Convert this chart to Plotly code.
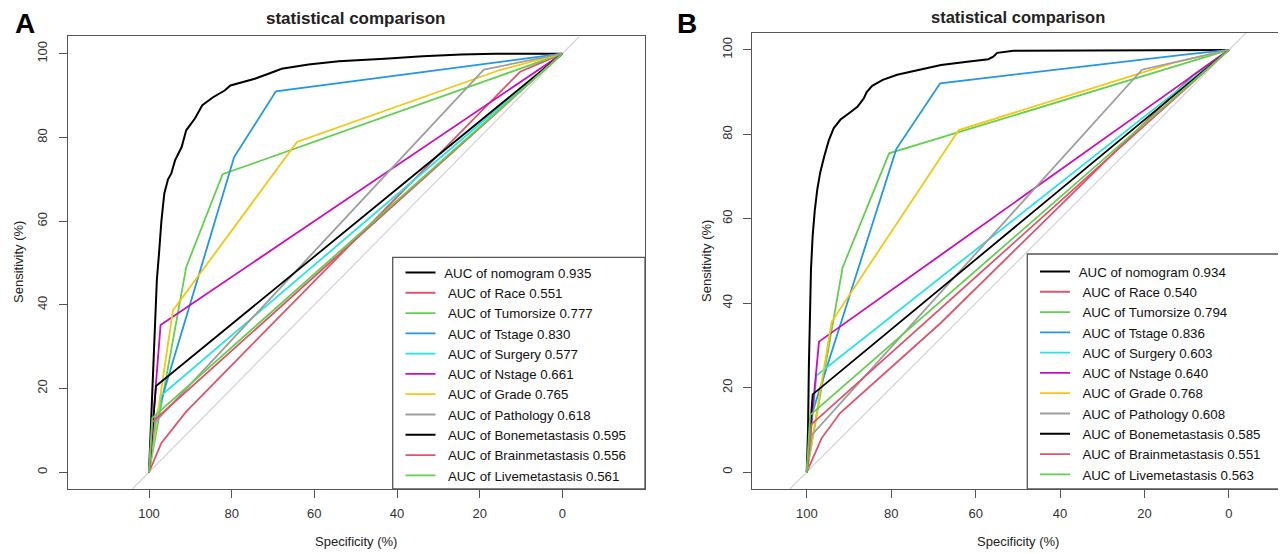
import plotly.graph_objects as go

W, H = 1286, 554
OFF = 8  # page body margin offset of the rendered figure
FONT = "Arial, Liberation Sans, sans-serif"

names = ["nomogram", "Race", "Tumorsize", "Tstage", "Surgery", "Nstage", "Grade",
         "Pathology", "Bonemetastasis", "Brainmetastasis", "Livemetastasis"]
colors = ["#000000", "#DF536B", "#61D04F", "#2297E6", "#28E2E5", "#CD0BBC", "#F5C710",
          "#9E9E9E", "#000000", "#DF536B", "#61D04F"]
auc_a = ["0.935", "0.551", "0.777", "0.830", "0.577", "0.661", "0.765", "0.618", "0.595", "0.556", "0.561"]
auc_b = ["0.934", "0.540", "0.794", "0.836", "0.603", "0.640", "0.768", "0.608", "0.585", "0.551", "0.563"]

tick_vals = [0, 20, 40, 60, 80, 100]
diag_spec = [104, -4]
diag_sens = [-4, 104]

# ---------------- Panel A (specificity %, sensitivity %) ----------------
a_nomogram_spec = [100, 99.7, 99.4, 99.1, 98.8, 98.4, 98.1, 97.6, 97.0, 96.3, 95.4, 94.6, 93.7, 92.1, 91.0,
                   88.9, 87.1, 84.5, 81.7, 80.3, 77.1, 74.4, 71.1, 67.9, 61.4, 54.1, 43.0, 33.8, 24.5, 16.2, 0]
a_nomogram_sens = [0, 8, 14, 22, 30, 38, 46, 52, 60, 66.6, 70, 71.4, 74.5, 77.7, 81.7,
                   84.5, 87.7, 89.6, 91.2, 92.4, 93.2, 94.0, 95.2, 96.4, 97.4, 98.2, 98.8, 99.4, 99.8, 100, 100]
a_race_spec = [100, 97, 91.0, 10.2, 0]
a_race_sens = [0, 7, 14.5, 95.7, 100]
a_tumorsize_spec = [100, 95.3, 91.0, 82.2, 0]
a_tumorsize_sens = [0, 26, 49, 71.2, 100]
a_tstage_spec = [100, 98.6, 79.4, 69.3, 0]
a_tstage_sens = [0, 12, 75.3, 91.0, 100]
a_surgery_spec = [100, 97.0, 0]
a_surgery_sens = [0, 18.4, 100]
a_nstage_spec = [100, 97.2, 0]
a_nstage_sens = [0, 35.2, 100]
a_grade_spec = [100, 94.2, 64.2, 15.1, 0]
a_grade_sens = [0, 38.7, 78.9, 96.1, 100]
a_pathology_spec = [100, 98.5, 19.0, 0]
a_pathology_sens = [0, 12, 96.2, 100]
a_bone_spec = [100, 98.3, 0]
a_bone_sens = [0, 20.6, 100]
a_brain_spec = [100, 99.2, 0]
a_brain_sens = [0, 12.0, 100]
a_liver_spec = [100, 99.2, 0]
a_liver_sens = [0, 13.0, 100]

# ---------------- Panel B ----------------
b_nomogram_spec = [100, 99.7, 99.5, 99.3, 99.0, 98.6, 98.1, 97.5, 96.8, 95.8, 94.8, 93.6, 92.0, 90.0, 88.0,
                   86.5, 85.8, 84.5, 82.0, 78.6, 75.5, 72.0, 68.2, 62.0, 57.0, 55.8, 54.9, 51.0, 30.0, 0]
b_nomogram_sens = [0, 10, 25, 38, 48, 56, 62, 67, 71, 75, 78.5, 81.5, 83.5, 85, 86.5,
                   88.5, 90, 91.5, 92.9, 94.1, 94.8, 95.6, 96.4, 97.2, 97.8, 98.4, 99.3, 99.8, 99.9, 100]
b_race_spec = [100, 96.5, 92.1, 68.4, 8.5, 0]
b_race_sens = [0, 8, 14.0, 35.2, 94.0, 100]
b_tumorsize_spec = [100, 91.5, 80.5, 0]
b_tumorsize_sens = [0, 48.5, 75.5, 100]
b_tstage_spec = [100, 98.7, 78.8, 68.4, 11.0, 0]
b_tstage_sens = [0, 14, 76.5, 92.1, 98.8, 100]
b_surgery_spec = [100, 97.7, 0]
b_surgery_sens = [0, 22.9, 100]
b_nstage_spec = [100, 97.1, 0]
b_nstage_sens = [0, 30.9, 100]
b_grade_spec = [100, 94.1, 64.0, 13.0, 0]
b_grade_sens = [0, 35.6, 81.0, 97.0, 100]
b_pathology_spec = [100, 98.8, 20.6, 0]
b_pathology_sens = [0, 8.8, 95.3, 100]
b_bone_spec = [100, 98.6, 0]
b_bone_sens = [0, 18.4, 100]
b_brain_spec = [100, 98.9, 0]
b_brain_sens = [0, 11.3, 100]
b_liver_spec = [100, 99.2, 0]
b_liver_sens = [0, 13.5, 100]

curves_a = [(a_nomogram_spec, a_nomogram_sens), (a_race_spec, a_race_sens), (a_tumorsize_spec, a_tumorsize_sens),
            (a_tstage_spec, a_tstage_sens), (a_surgery_spec, a_surgery_sens), (a_nstage_spec, a_nstage_sens),
            (a_grade_spec, a_grade_sens), (a_pathology_spec, a_pathology_sens), (a_bone_spec, a_bone_sens),
            (a_brain_spec, a_brain_sens), (a_liver_spec, a_liver_sens)]
curves_b = [(b_nomogram_spec, b_nomogram_sens), (b_race_spec, b_race_sens), (b_tumorsize_spec, b_tumorsize_sens),
            (b_tstage_spec, b_tstage_sens), (b_surgery_spec, b_surgery_sens), (b_nstage_spec, b_nstage_sens),
            (b_grade_spec, b_grade_sens), (b_pathology_spec, b_pathology_sens), (b_bone_spec, b_bone_sens),
            (b_brain_spec, b_brain_sens), (b_liver_spec, b_liver_sens)]


def px(p):
    return (p - OFF) / W


def py(p):
    return 1 - (p - OFF) / H


fig = go.Figure()

NB = "\u00a0"
for curves, aucs, xa, ya, leg in [(curves_a, auc_a, "x", "y", "legend"), (curves_b, auc_b, "x2", "y2", "legend2")]:
    fig.add_trace(go.Scatter(x=diag_spec, y=diag_sens, mode="lines", line=dict(color="#D3D3D3", width=1.2),
                             showlegend=False, hoverinfo="skip", xaxis=xa, yaxis=ya))
    for i, (sp, se) in enumerate(curves):
        prefix = NB if i == 0 else NB + NB
        fig.add_trace(go.Scatter(
            x=sp, y=se, mode="lines",
            line=dict(color=colors[i], width=2.0 if i == 0 else 1.8),
            name=f"{prefix}AUC of {names[i]} {aucs[i]}",
            legend=leg, xaxis=xa, yaxis=ya))

axis_common = dict(showline=True, mirror=True, linecolor="#555555", linewidth=1.3,
                   ticks="outside", ticklen=8, tickcolor="#555555", tickwidth=1.3,
                   showgrid=False, zeroline=False, tickvals=tick_vals,
                   tickfont=dict(family=FONT, size=13, color="#333333"), fixedrange=True)

fig.update_layout(
    width=W, height=H,
    margin=dict(l=0, r=0, t=0, b=0),
    paper_bgcolor="white", plot_bgcolor="white",
    font=dict(family=FONT, color="#222222"),
    xaxis=dict(**axis_common, domain=[px(67.7), px(645)], range=[119.67, -20.0], anchor="y",
               ticklabelstandoff=4),
    yaxis=dict(**axis_common, domain=[py(489), py(35.7)], range=[-4.0, 104.3], anchor="x",
               tickangle=-90, ticklabelstandoff=6),
    xaxis2=dict(**axis_common, domain=[px(752.3), px(1283.4)], range=[112.9, -12.9], anchor="y2",
                ticklabelstandoff=4),
    yaxis2=dict(**axis_common, domain=[py(489), py(33)], range=[-4.0, 104.0], anchor="x2",
                tickangle=-90, ticklabelstandoff=6),
    legend=dict(x=px(400.5), y=py(257.3), xanchor="left", yanchor="top",
                bgcolor="rgba(0,0,0,0)", borderwidth=0,
                font=dict(family=FONT, size=13.3, color="#111111"), tracegroupgap=0),
    legend2=dict(x=px(1035), y=py(256.3), xanchor="left", yanchor="top",
                 bgcolor="rgba(0,0,0,0)", borderwidth=0,
                 font=dict(family=FONT, size=13.3, color="#111111"), tracegroupgap=0),
    showlegend=True,
)

shapes = [
    dict(type="rect", xref="paper", yref="paper", x0=px(392.7), x1=px(645), y0=py(489), y1=py(257.3),
         line=dict(color="#555555", width=1.3), fillcolor="white", layer="above"),
    dict(type="rect", xref="paper", yref="paper", x0=px(1027.3), x1=px(1283.4), y0=py(489), y1=py(254),
         line=dict(color="#555555", width=1.3), fillcolor="white", layer="above"),
]
fig.update_layout(shapes=shapes)

ann = []


def text(x, y, s, size, bold=False, angle=0, color="#222222"):
    ann.append(dict(x=px(x), y=py(y), xref="paper", yref="paper", text=f"<b>{s}</b>" if bold else s,
                    showarrow=False, xanchor="center", yanchor="middle", textangle=angle,
                    font=dict(family=FONT, size=size, color=color)))


text(25, 23, "A", 28, bold=True, color="#000000")
text(687, 23, "B", 28, bold=True, color="#000000")
text(356.4, 18, "statistical comparison", 17, bold=True)
text(1017.9, 17, "statistical comparison", 16.5, bold=True)
text(356.4, 541, "Specificity (%)", 13)
text(1017.9, 541, "Specificity (%)", 13)
text(18, 262, "Sensitivity (%)", 13, angle=-90)
text(706, 261, "Sensitivity (%)", 13, angle=-90)
fig.update_layout(annotations=ann)

fig.write_html("out.html")
